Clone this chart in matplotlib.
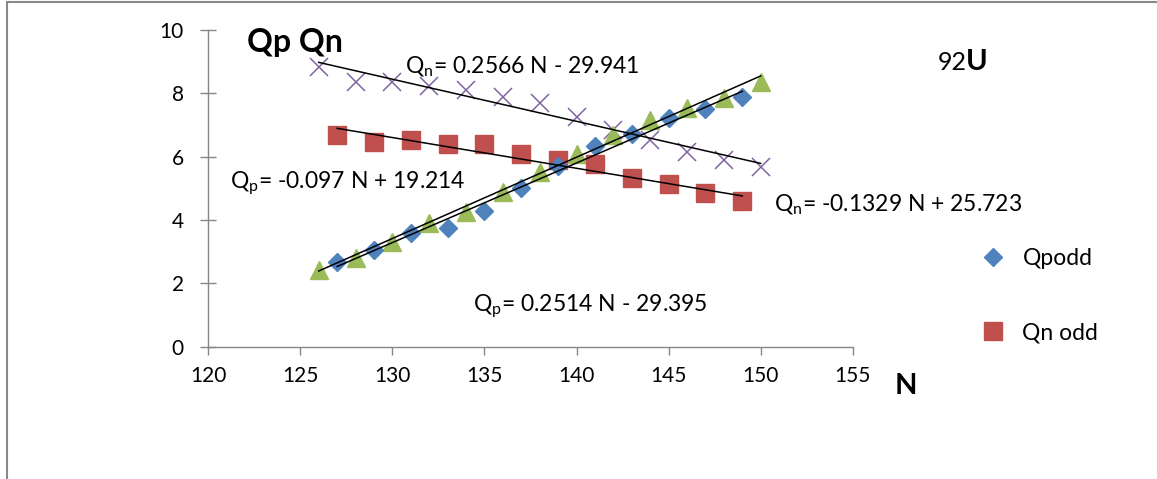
import numpy as np
import matplotlib
matplotlib.use('Agg')
from matplotlib import pyplot as plt
from matplotlib.patches import Rectangle

plt.rcParams['font.family'] = ['Lato', 'DejaVu Sans']
plt.rcParams['mathtext.fontset'] = 'custom'
plt.rcParams['mathtext.rm'] = 'Lato'
plt.rcParams['mathtext.it'] = 'Lato:italic'

# 92U: Qp, Qn против N
n_odd = [127, 129, 131, 133, 135, 137, 139, 141, 143, 145, 147, 149]
n_even = [126, 128, 130, 132, 134, 136, 138, 140, 142, 144, 146, 148, 150]

qp_odd = [2.68, 3.05, 3.58, 3.75, 4.28, 5.0, 5.72, 6.33, 6.72, 7.21, 7.52, 7.87]
qn_odd = [6.68, 6.47, 6.53, 6.40, 6.39, 6.07, 5.9, 5.76, 5.32, 5.14, 4.84, 4.6]
qp_even = [2.42, 2.8, 3.32, 3.9, 4.26, 4.89, 5.53, 6.1, 6.7, 7.16, 7.55, 7.84, 8.37]
qn_even = [8.84, 8.37, 8.37, 8.24, 8.11, 7.87, 7.69, 7.26, 6.84, 6.53, 6.16, 5.9, 5.68]

# линии тренда: (наклон, сдвиг, N от, N до)
trend_qp_odd = (0.2514, -29.395, 127, 149)
trend_qn_odd = (-0.097, 19.214, 127, 149)
trend_qp_even = (0.2566, -29.941, 126, 150)
trend_qn_even = (-0.1329, 25.723, 126, 150)

fig = plt.figure(figsize=(11.57, 4.79), dpi=100)
ax = fig.add_axes([208.3 / 1157, 1 - 346.7 / 479, (852.7 - 208.3) / 1157, (346.7 - 30) / 479])

ax.plot(n_even, qn_even, linestyle='none', marker='x', markersize=13,
        markeredgewidth=1.1, color='#8064A2')
ax.plot(n_even, qp_even, linestyle='none', marker='^', markersize=13,
        color='#9BBB59')
l_qn, = ax.plot(n_odd, qn_odd, linestyle='none', marker='s', markersize=13.5,
                color='#C0504D', label='Qn odd')
l_qp, = ax.plot(n_odd, qp_odd, linestyle='none', marker='D', markersize=9.5,
                color='#4F81BD', label='Qpodd')

for k, b, n0, n1 in [trend_qn_even, trend_qn_odd, trend_qp_even, trend_qp_odd]:
    xs = np.array([n0, n1])
    ax.plot(xs, k * xs + b, color='black', linewidth=1.1)

ax.set_xlim(120, 155)
ax.set_ylim(0, 10)
ax.set_xticks(range(120, 156, 5))
ax.set_yticks(range(0, 11, 2))
for side in ['top', 'right']:
    ax.spines[side].set_visible(False)
for side in ['left', 'bottom']:
    ax.spines[side].set_color('#868686')
    ax.spines[side].set_linewidth(1.0)
ax.tick_params(axis='y', direction='inout', length=11, width=1.0, color='#868686',
               labelsize=15, pad=12)
ax.tick_params(axis='x', direction='out', length=6, width=1.0, color='#868686',
               labelsize=15, pad=8)

eq = dict(fontsize=16.5, ha='left', va='center')
ax.text(130.7, 8.85, r'Q$_\mathrm{n}$= 0.2566 N - 29.941', **eq)
ax.text(121.18, 5.17, r'Q$_\mathrm{p}$= -0.097 N + 19.214', **eq)
ax.text(150.74, 4.47, r'Q$_\mathrm{n}$= -0.1329 N + 25.723', **eq)
ax.text(134.36, 1.28, r'Q$_\mathrm{p}$= 0.2514 N - 29.395', **eq)

ax.text(122.1, 9.6, 'Qp Qn', fontsize=23, fontweight='bold', ha='left', va='center')
fig.text(938 / 1157, 1 - 70 / 479, '92', fontsize=18, ha='left', va='baseline')
fig.text(966 / 1157, 1 - 70 / 479, 'U', fontsize=21, fontweight='bold', ha='left', va='baseline')
fig.text(895 / 1157, 1 - 386 / 479, 'N', fontsize=21, fontweight='bold', ha='left', va='center')

ax.legend(handles=[l_qp, l_qn], loc='upper left', bbox_to_anchor=(972 / 1157, 1 - 237 / 479),
          bbox_transform=fig.transFigure, frameon=False, fontsize=16.5,
          handlelength=0.8, handletextpad=0.9, labelspacing=2.3, borderpad=0)

fig.add_artist(Rectangle((7 / 1157, -0.5), 1.5, 0.5 + 1 - 1.5 / 479, transform=fig.transFigure,
                         fill=False, edgecolor='#898989', linewidth=1.5))

fig.savefig('out.png', dpi=100)
